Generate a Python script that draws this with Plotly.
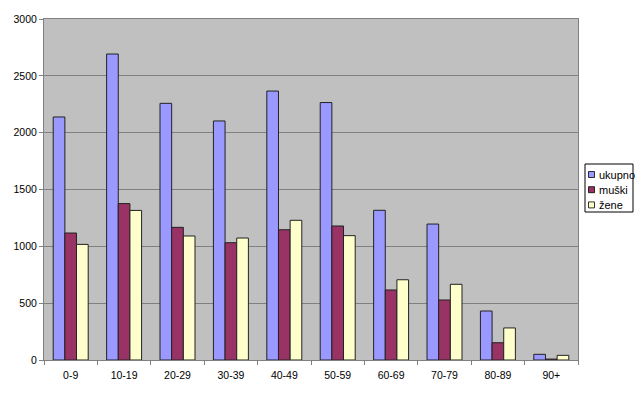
import plotly.graph_objects as go

categories = ["0-9", "10-19", "20-29", "30-39", "40-49", "50-59", "60-69", "70-79", "80-89", "90+"]
ukupno = [2138, 2692, 2258, 2103, 2366, 2265, 1317, 1196, 431, 50]
muski = [1117, 1376, 1167, 1032, 1146, 1179, 616, 528, 152, 8]
zene = [1017, 1316, 1091, 1073, 1229, 1094, 706, 666, 282, 41]
series_names = ["ukupno", "muški", "žene"]
series_values = [ukupno, muski, zene]
series_colors = ["#9999FF", "#993366", "#FFFFCC"]
y_ticks = [0, 500, 1000, 1500, 2000, 2500, 3000]

W, H = 640, 393
L, R, T, B = 44, 62, 19, 33
pw, ph = W - L - R, H - T - B

fig = go.Figure()
for name, vals, col in zip(series_names, series_values, series_colors):
    fig.add_trace(go.Bar(
        x=categories, y=vals, name=name, showlegend=False,
        marker=dict(color=col, line=dict(color="#222222", width=1)),
    ))

font = dict(family="Liberation Sans, Arial, sans-serif", size=10.5, color="#000000")

# manual legend in pixel space converted to paper coords
def px_x(px):
    return (px - L) / pw

def px_y(py):
    return (H - B - py) / ph

shapes = [dict(type="rect", xref="paper", yref="paper",
               x0=px_x(585), x1=px_x(633), y0=px_y(212), y1=px_y(164),
               line=dict(color="#000000", width=1), fillcolor="#FFFFFF", layer="above")]
annotations = []
for i, (name, col) in enumerate(zip(series_names, series_colors)):
    cy = 174.5 + i * 15.2
    shapes.append(dict(type="rect", xref="paper", yref="paper",
                       x0=px_x(588.5), x1=px_x(594.5), y0=px_y(cy + 3), y1=px_y(cy - 3),
                       line=dict(color="#000000", width=0.8), fillcolor=col, layer="above"))
    annotations.append(dict(xref="paper", yref="paper", x=px_x(597), y=px_y(cy),
                            xanchor="left", yanchor="middle", text=name, showarrow=False,
                            font=dict(family=font["family"], size=11, color="#000000")))

fig.update_layout(
    width=W, height=H,
    margin=dict(l=L, r=R, t=T, b=B, pad=0),
    paper_bgcolor="#FFFFFF", plot_bgcolor="#C0C0C0",
    barmode="group", bargap=0.345, bargroupgap=0,
    font=font, showlegend=False,
    shapes=shapes, annotations=annotations,
    xaxis=dict(type="category", tickson="boundaries", ticks="outside", ticklen=4,
               tickcolor="#808080", showline=True, linecolor="#808080", linewidth=1,
               mirror=True, showgrid=False, tickfont=font, ticklabelstandoff=5),
    yaxis=dict(range=[0, 3000], tickvals=y_ticks, ticks="outside", ticklen=4,
               tickcolor="#808080", showline=True, linecolor="#808080", linewidth=1,
               mirror=True, showgrid=True, gridcolor="#808080", gridwidth=1,
               zeroline=False, tickfont=font),
)

fig.write_html("out.html", config={"displayModeBar": False},
               post_script="document.body.style.margin='0';document.body.style.overflow='hidden';")
